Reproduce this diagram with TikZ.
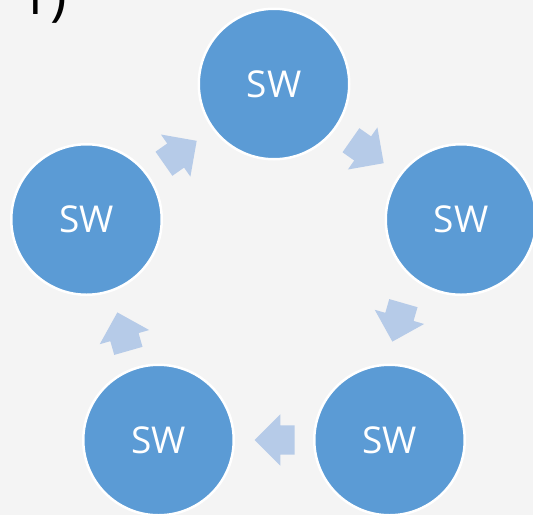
\documentclass[tikz,border=0pt]{standalone}
\usepackage{fontspec}
\setmainfont{Open Sans}
\usetikzlibrary{shapes.arrows}
\definecolor{bg}{HTML}{F4F4F4}
\definecolor{swblue}{HTML}{5B9BD5}
\definecolor{arrblue}{HTML}{B6CBE8}
\tikzset{
  sw/.style={circle, fill=swblue, draw=white, line width=2.5pt, minimum size=150.5pt, inner sep=0pt,
    text=white, font=\fontsize{37}{40}\selectfont},
  blockarrow/.style={single arrow, fill=arrblue, draw=none, minimum height=40pt,
    single arrow head extend=11pt, single arrow head indent=0pt, inner xsep=0pt, inner ysep=14.5pt},
}
\begin{document}
\begin{tikzpicture}[x=1pt,y=-1pt]
\path[fill=bg] (0,0) rectangle (533,515);
\useasboundingbox (0,0) rectangle (533,515);
\begin{scope}
\clip (0,0) rectangle (533,515);
\node[anchor=base west, font=\fontsize{56}{60}\selectfont, inner sep=0pt] (lbl) at (18,14) {1)};
\node[sw] (top) at (274,84) {SW};
\node[sw] (right) at (461,219.5) {SW};
\node[sw] (br) at (389.5,440) {SW};
\node[sw] (bl) at (158.5,440) {SW};
\node[sw] (left) at (86.5,219.5) {SW};
\node[blockarrow, rotate=-35] (a1) at (361.3,147.5) {};
\node[blockarrow, rotate=-106] (a2) at (399.9,315.3) {};
\node[blockarrow, rotate=180] (a3) at (282,440) {};
\node[blockarrow, rotate=106] (a4) at (124.9,338.7) {};
\node[blockarrow, rotate=35] (a5) at (174.3,156.5) {};
\end{scope}
\end{tikzpicture}
\end{document}
